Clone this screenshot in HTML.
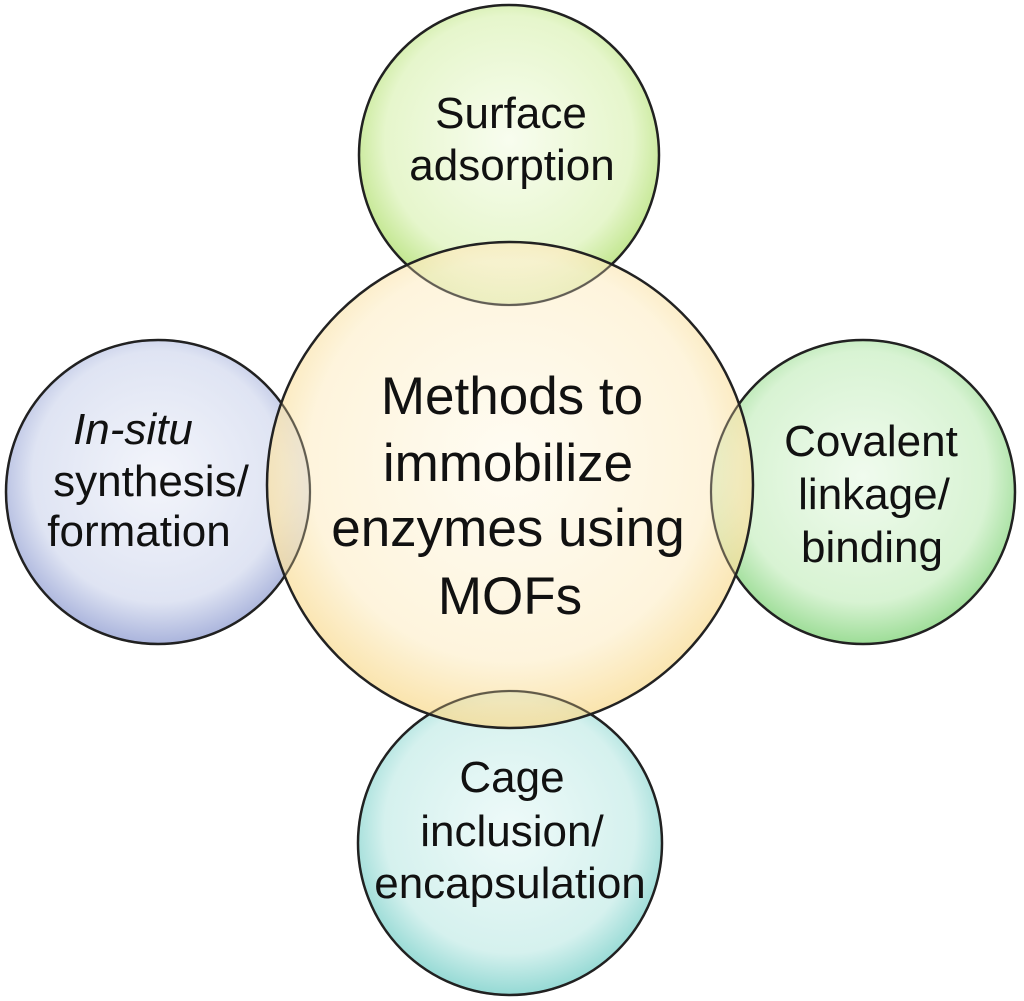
<!DOCTYPE html>
<html><head><style>
body{margin:0;background:#fff;}
svg{display:block;}
text{font-family:"Liberation Sans",sans-serif;fill:#111;text-anchor:middle;}
</style></head><body>
<svg width="1024" height="1001" viewBox="0 0 1024 1001">
<defs>
<radialGradient id="gc" cx="50%" cy="45%" r="55%"><stop offset="0" stop-color="#fffbee"/><stop offset="0.75" stop-color="#fdf0cf"/><stop offset="1" stop-color="#f8d98c"/></radialGradient>
<radialGradient id="gt" cx="50%" cy="45%" r="55%"><stop offset="0" stop-color="#f8fdef"/><stop offset="0.75" stop-color="#e6f6cc"/><stop offset="1" stop-color="#bfe58a"/></radialGradient>
<radialGradient id="gl" cx="50%" cy="45%" r="55%"><stop offset="0" stop-color="#f3f5fb"/><stop offset="0.75" stop-color="#dfe4f3"/><stop offset="1" stop-color="#aab4dc"/></radialGradient>
<radialGradient id="gr" cx="50%" cy="45%" r="55%"><stop offset="0" stop-color="#f0fbee"/><stop offset="0.75" stop-color="#d8f3d3"/><stop offset="1" stop-color="#9ddd97"/></radialGradient>
<radialGradient id="gb" cx="50%" cy="45%" r="55%"><stop offset="0" stop-color="#eefaf9"/><stop offset="0.75" stop-color="#d5f1ee"/><stop offset="1" stop-color="#94d9d4"/></radialGradient>
</defs>
<circle cx="509" cy="155" r="150" fill="url(#gt)" stroke="#222" stroke-width="2.5"/>
<circle cx="158" cy="492" r="152" fill="url(#gl)" stroke="#222" stroke-width="2.5"/>
<circle cx="863" cy="492" r="152" fill="url(#gr)" stroke="#222" stroke-width="2.5"/>
<circle cx="510" cy="843" r="152" fill="url(#gb)" stroke="#222" stroke-width="2.5"/>
<circle cx="510" cy="485" r="243" fill="url(#gc)" stroke="#222" stroke-width="2.5" fill-opacity="0.72"/>
<circle cx="509" cy="155" r="150" fill="none" stroke="#222" stroke-width="2" opacity="0.6"/>
<circle cx="158" cy="492" r="152" fill="none" stroke="#222" stroke-width="2" opacity="0.6"/>
<circle cx="863" cy="492" r="152" fill="none" stroke="#222" stroke-width="2" opacity="0.6"/>
<circle cx="510" cy="843" r="152" fill="none" stroke="#222" stroke-width="2" opacity="0.6"/>
<g font-size="53">
<text x="512" y="414">Methods to</text>
<text x="508" y="481">immobilize</text>
<text x="508" y="546">enzymes using</text>
<text x="510" y="614">MOFs</text>
</g>
<g font-size="44">
<text x="511" y="128">Surface</text>
<text x="512" y="180">adsorption</text>
<text x="133" y="444" font-style="italic">In-situ</text>
<text x="151" y="496">synthesis/</text>
<text x="139" y="546">formation</text>
<text x="871" y="456">Covalent</text>
<text x="874" y="509">linkage/</text>
<text x="872" y="562">binding</text>
<text x="512" y="792">Cage</text>
<text x="512" y="846">inclusion/</text>
<text x="510" y="898">encapsulation</text>
</g>
</svg>
</body></html>
